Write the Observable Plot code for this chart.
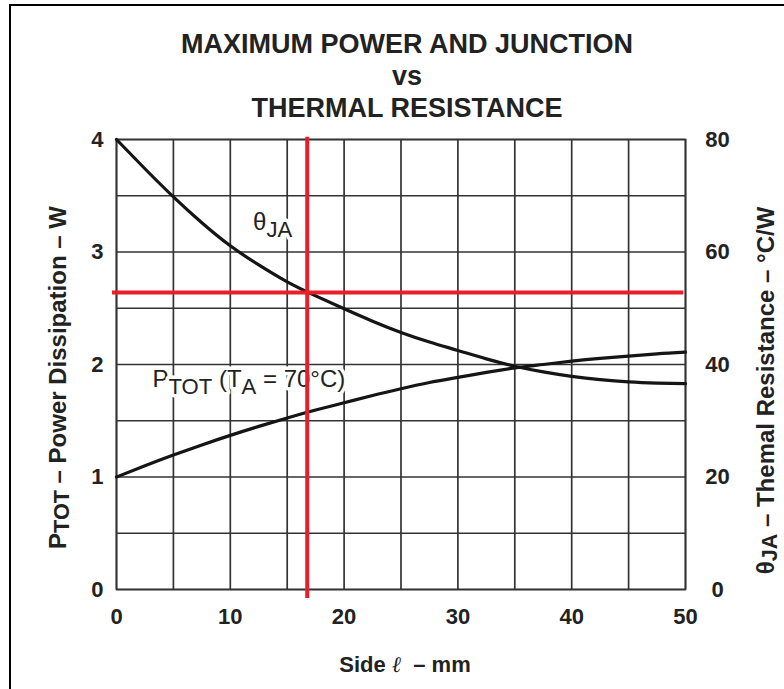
<!DOCTYPE html>
<html><head><meta charset="utf-8">
<script src="https://cdn.jsdelivr.net/npm/d3@7"></script>
<script src="https://cdn.jsdelivr.net/npm/@observablehq/plot@0.6"></script>
<style>
body{margin:0;background:#fff;font-family:"Liberation Sans",Arial,sans-serif;}
#wrap{position:relative;width:784px;height:689px;overflow:hidden;background:#fff;}
#border{position:absolute;left:9px;top:4px;right:-10px;bottom:-10px;border-left:2.5px solid #000;border-top:2.5px solid #000;}
#title{position:absolute;left:0;top:28px;width:814px;text-align:center;font-weight:bold;font-size:27px;line-height:32px;color:#222;}
#chart{position:absolute;left:0;top:120px;}
</style></head>
<body><div id="wrap"><div id="border"></div><div id="title"></div><div id="chart"></div></div>
<script>
// ---- data ----
const titleLines = ["MAXIMUM POWER AND JUNCTION", "vs", "THERMAL RESISTANCE"];
const sideMM  = [0, 2.5, 5, 7.5, 10, 12.5, 15, 17.5, 20, 22.5, 25, 27.5, 30, 32.5, 35, 37.5, 40, 42.5, 45, 47.5, 50];
const thetaJA = [80, 74.8, 69.8, 65.2, 61.1, 57.7, 54.7, 52.2, 49.9, 47.7, 45.7, 44.0, 42.5, 41.0, 39.7, 38.7, 37.9, 37.3, 36.9, 36.7, 36.6];
const pTot    = [1.0, 1.10, 1.195, 1.285, 1.37, 1.45, 1.525, 1.595, 1.66, 1.725, 1.785, 1.84, 1.885, 1.93, 1.97, 2.0, 2.03, 2.055, 2.075, 2.095, 2.11];
const xTicks = [0, 10, 20, 30, 40, 50];
const leftTicks = [0, 1, 2, 3, 4];
const rightTickLabels = [0, 20, 40, 60, 80];
const xGrid = [0, 5, 10, 15, 20, 25, 30, 35, 40, 45, 50];
const yGrid = [0, 0.5, 1, 1.5, 2, 2.5, 3, 3.5, 4];
const opSide = 16.76;   // mm
const opPower = 2.64;   // W
const thetaPerWatt = 20; // right axis: 80 °C/W at 4 W

const leftTitle  = [["P",""],["TOT","sub"],[" – Power Dissipation – W",""]];
const rightTitle = [["θ",""],["JA","sub"],[" – Themal Resistance – °C/W",""]];
const xTitle     = [["Side ",""],["ℓ","script"],["  – mm",""]];
const thetaLabel = [["θ",""],["JA","sub2"]];
const pLabel     = [["P",""],["TOT","sub2"],[" (T",""],["A","sub2"],[" = 70°C)",""]];
const curveLabels = [
  {x: 12.0, y: 3.26, parts: thetaLabel},
  {x: 3.16, y: 1.87, parts: pLabel}
];

document.getElementById("title").innerHTML = titleLines.join("<br>");

const rows = sideMM.map((s, i) => ({s, theta: thetaJA[i], p: pTot[i]}));
const join = parts => parts.map(d => d[0]).join("");
const gridStyle = {stroke: "#333", strokeOpacity: 1, strokeWidth: 1.7};
const red = "#e81f2a";

const plot = Plot.plot({
  width: 784, height: 569,
  marginLeft: 116, marginRight: 99, marginTop: 19, marginBottom: 100,
  x: {domain: [0, 50]},
  y: {domain: [0, 4]},
  style: {fontFamily: "'Liberation Sans', Arial, sans-serif", fontSize: "22px", fontWeight: "bold", color: "#222", overflow: "visible", background: "transparent"},
  marks: [
    Plot.gridX(xGrid, gridStyle),
    Plot.gridY(yGrid, gridStyle),
    Plot.frame({stroke: "#333", strokeWidth: 1.7}),
    Plot.axisX(xTicks, {tickSize: 0, tickPadding: 19, label: null}),
    Plot.axisY(leftTicks, {anchor: "left", tickSize: 0, tickPadding: 13, label: null, tickFormat: d => String(d)}),
    Plot.axisY(leftTicks, {anchor: "right", tickSize: 0, tickPadding: 32, textAnchor: "middle", label: null,
      tickFormat: d => rightTickLabels[leftTicks.indexOf(d)]}),
    Plot.line(rows, {x: "s", y: d => d.theta / thetaPerWatt, curve: "natural", stroke: "#151515", strokeWidth: 3.2}),
    Plot.line(rows, {x: "s", y: "p", curve: "natural", stroke: "#151515", strokeWidth: 3.2}),
    Plot.text(curveLabels, {x: "x", y: "y", text: d => join(d.parts), textAnchor: "start", lineAnchor: "middle",
      fontSize: 24, fontWeight: "normal", fill: "#222", stroke: "white", strokeWidth: 7, paintOrder: "stroke"}),
    Plot.ruleX([opSide], {y1: 4.02, y2: -0.08, stroke: red, strokeWidth: 4}),
    Plot.ruleY([opPower], {x1: -0.35, x2: 49.85, stroke: red, strokeWidth: 4}),
    Plot.text([join(leftTitle)], {frameAnchor: "left", rotate: -90, dx: -58, dy: 13, textAnchor: "middle", lineAnchor: "middle", fontSize: 24}),
    Plot.text([join(rightTitle)], {frameAnchor: "right", rotate: -90, dx: 81, dy: 26, textAnchor: "middle", lineAnchor: "middle", fontSize: 24}),
    Plot.text([join(xTitle)], {frameAnchor: "bottom", dx: 4, dy: 75, textAnchor: "middle", lineAnchor: "middle", fontSize: 22})
  ]
});
document.getElementById("chart").appendChild(plot);

// rebuild labels with subscripts as tspans
function rich(parts) {
  const s = join(parts);
  d3.select(plot).selectAll("text").filter(function() { return this.textContent === s; }).each(function() {
    const t = d3.select(this);
    t.text(null);
    let shift = 0;
    parts.forEach(([str, kind]) => {
      const ts = t.append("tspan").text(str);
      let want = 0;
      if (kind === "sub") { want = 3; ts.attr("font-size", "0.9em"); }
      if (kind === "sub2") { want = 7; ts.attr("font-size", "0.92em"); }
      if (kind === "script") { ts.attr("font-family", "'DejaVu Serif', serif").attr("font-style", "italic").attr("font-weight", "normal"); }
      if (want !== shift) { ts.attr("dy", want - shift); shift = want; }
    });
  });
}
[leftTitle, rightTitle, xTitle, thetaLabel, pLabel].forEach(rich);
</script>
</body></html>
